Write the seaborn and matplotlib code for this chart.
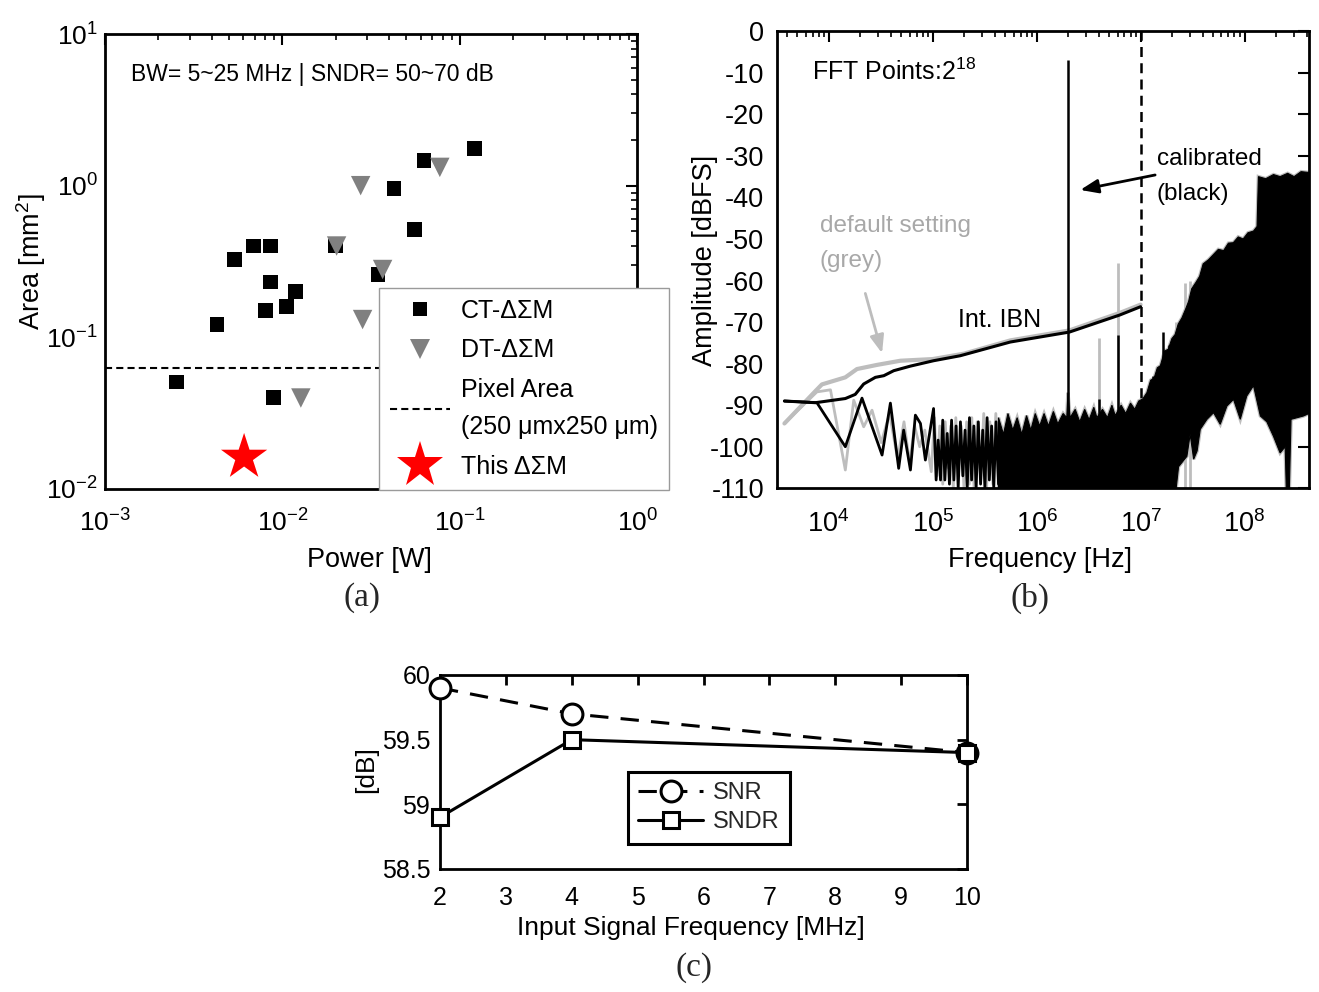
import numpy as np
import pandas as pd
import matplotlib
matplotlib.use("Agg")
import matplotlib.pyplot as plt
import matplotlib.font_manager as fm
from matplotlib.lines import Line2D
from matplotlib.ticker import FuncFormatter, FixedLocator, LogLocator, NullFormatter, FixedFormatter
import seaborn as sns

# ---------------- data: panel (a) ----------------
ct_power = [0.121, 0.0627, 0.0425, 0.0556, 0.00687, 0.00859, 0.00535, 0.0200,
            0.0345, 0.00859, 0.0119, 0.00805, 0.01053, 0.00427, 0.00254, 0.0089]
ct_area = [1.76, 1.46, 0.96, 0.515, 0.40, 0.40, 0.327, 0.40,
           0.26, 0.232, 0.201, 0.151, 0.16, 0.121, 0.0507, 0.0401]
dt_power = [0.0276, 0.0771, 0.0202, 0.0367, 0.0283, 0.0127]
dt_area = [1.00, 1.32, 0.40, 0.28, 0.131, 0.0398]
this_power = [0.00608]
this_area = [0.0162]
pixel_area = 0.0625  # 250 um x 250 um in mm^2

# ---------------- data: panel (b) ----------------
# low-frequency part of the spectra (Hz, dBFS)
blk_low_f = [3750, 7700, 14450, 20900, 32600, 39200, 47100, 52600, 61100, 68200, 76300,
             85100, 102000, 108000, 113000, 119000, 125000, 131000, 138000, 145000, 152000,
             160000, 168000, 176000, 185000, 195000, 205000, 215000, 226000, 237000, 249000,
             262000, 275000, 289000, 303000, 318000, 334000, 351000, 369000, 387000, 407000,
             430000]
blk_low_db = [-89.0, -89.4, -100.0, -88.3, -102.0, -89.5, -105.2, -96.0, -105.6, -92.4, -94.4,
              -103.2, -90.8, -108, -98.4, -108, -93.6, -108, -96.8, -109, -93.6,
              -108, -95, -110, -94, -107, -96, -110, -93, -108, -95,
              -110, -94, -109, -96, -110, -93, -108, -95, -110, -94,
              -109]
gry_low_f = [3750, 7700, 10400, 14450, 17400, 21700, 26100, 32000, 38500, 46000, 53000, 60000,
             67000, 75000, 84000, 97000, 104000, 110000, 117000, 125000, 132000, 140000,
             149000, 158000, 167000, 176000, 188000, 200000, 212000, 225000, 238000, 250000,
             268000, 290000, 310000, 330000, 355000, 380000, 405000, 430000]
gry_low_db = [-94.4, -86.8, -86.3, -105.6, -88.8, -95.2, -91.2, -99, -92, -103, -94, -104,
              -95, -100, -96, -106, -93, -107, -95, -109, -94, -105,
              -95, -110, -93, -108, -95, -110, -94, -109, -93, -110,
              -94, -108, -92, -110, -94, -109, -92, -108]
# dense noise region: upper and lower edges
dense_up_f = [4.3e5, 4.8e5, 5.3e5, 5.9e5, 6.5e5, 7.2e5, 8.0e5, 8.8e5, 9.7e5, 1.07e6, 1.18e6,
              1.3e6, 1.45e6, 1.6e6, 1.8e6, 1.95e6, 2.0e6, 2.1e6, 2.35e6, 2.6e6, 2.9e6, 3.2e6,
              3.55e6, 3.8e6, 4.3e6, 4.8e6, 5.3e6, 5.7e6, 6.5e6, 7.2e6, 8.0e6, 8.8e6, 9.6e6,
              1.05e7, 1.15e7, 1.25e7, 1.35e7, 1.45e7, 1.55e7, 1.7e7, 1.85e7, 2.0e7, 2.15e7,
              2.3e7, 2.5e7, 2.7e7, 2.9e7, 3.1e7, 3.4e7, 3.7e7, 4.0e7, 4.5e7, 5.0e7, 5.6e7,
              6.3e7, 7.0e7, 7.8e7, 8.7e7, 9.7e7, 1.08e8, 1.22e8, 1.32e8, 1.36e8, 1.6e8,
              1.9e8, 2.2e8, 2.6e8, 3.0e8, 3.5e8, 4.17e8]
dense_up_db = [-93, -97, -92, -96, -93, -97, -92.5, -96, -92, -95, -92,
               -95, -91.5, -94.5, -92, -93, -87, -93, -91, -94, -91, -93.5,
               -90.5, -93, -91, -93, -90, -92.5, -90, -92, -89.5, -91, -89,
               -88.5, -87, -84, -83.5, -81, -80.5, -77, -76.5, -74, -73,
               -70.5, -69, -67, -65, -62, -60.5, -59, -56, -55, -53.8, -52.5,
               -52.8, -51, -50.9, -49.5, -50, -48.5, -48.1, -47, -35, -35.5,
               -34.5, -35, -34.2, -35, -33.8, -34]
dense_lo_f = [4.3e5, 2.2e7, 2.32e7, 2.79e7, 3.0e7, 3.24e7, 3.5e7, 3.75e7, 4.35e7, 5.04e7, 5.84e7,
              6.77e7, 7.84e7, 9.1e7, 1.05e8, 1.22e8, 1.42e8, 1.64e8, 1.9e8, 2.2e8, 2.46e8,
              2.52e8, 2.7e8, 2.8e8, 3.69e8, 4.17e8]
dense_lo_db = [-110, -110, -104.8, -102.3, -97, -103, -101, -95.8, -93.4, -91.8, -94.6,
               -90.2, -88.6, -93.4, -87.8, -85.3, -92.6, -94, -97.5, -101.5, -100,
               -110, -110, -93.4, -92.6, -92]
# spurs
blk_spur_f = [4e6, 6e6, 1e7, 1.33e7, 1.66e7, 1.86e7]
blk_spur_db = [-88.6, -73.2, -90, -82.9, -72.4, -75.6]
gry_spur_f = [4e6, 6e6, 2.2e7, 2.65e7, 3.0e7]
gry_spur_db = [-73.8, -55.8, -70, -60.5, -60]
tone_f = [2e6]
tone_db = [-7.0]
# integrated in-band noise
ibn_blk_f = [3750, 7450, 14450, 18000, 21700, 28100, 33900, 42200, 61000, 102000, 184000,
             558000, 2.07e6, 6.3e6, 1e7]
ibn_blk_db = [-89.0, -89.4, -88.4, -87.4, -84.9, -83.3, -82.9, -81.7, -80.6, -79.3, -78.1,
              -74.8, -72.4, -68.3, -66.3]
ibn_gry_f = [3750, 7450, 8600, 14450, 18700, 29200, 49000, 100000, 200000, 560000, 2.07e6,
             6.3e6, 1e7]
ibn_gry_db = [-94.4, -86.6, -85.0, -83.3, -81.3, -80.3, -79.3, -78.9, -77.6, -74.4, -72.0,
              -67.8, -65.8]
bw_edge = 1e7

# ---------------- data: panel (c) ----------------
sig_freq = [2, 4, 10]
snr = [59.9, 59.7, 59.4]
sndr = [58.9, 59.5, 59.4]

# ---------------- style ----------------
sns.set_theme(style="white")


def has_font(name):
    try:
        fm.findfont(fm.FontProperties(family=name), fallback_to_default=False)
        return True
    except Exception:
        return False


REG = "Liberation Sans"
NARROW = "Liberation Sans Narrow" if has_font("Liberation Sans Narrow") else REG
SERIF = "Liberation Serif"
plt.rcParams["font.family"] = [REG, "DejaVu Sans"]
plt.rcParams["axes.unicode_minus"] = False
plt.rcParams["mathtext.fontset"] = "custom"
plt.rcParams["mathtext.rm"] = REG
plt.rcParams["mathtext.it"] = REG + ":italic"
plt.rcParams["mathtext.bf"] = REG + ":bold"

W, H = 1319, 992
fig = plt.figure(figsize=(W / 100, H / 100), dpi=100)
fig.patch.set_facecolor("white")


def px_axes(l, t, r, b):
    return fig.add_axes([l / W, 1 - b / H, (r - l) / W, (b - t) / H])


axA = px_axes(105, 34, 637.3, 489)
axB = px_axes(776.7, 31.2, 1309, 488.3)
axC = px_axes(440, 675, 967, 869)

for ax in (axA, axB, axC):
    ax.set_facecolor("white")
    for s in ax.spines.values():
        s.set_color("black")
        s.set_linewidth(2.0)

pow10 = FuncFormatter(lambda v, _: r"$\mathregular{10^{%d}}$" % int(round(np.log10(v))))
GREY = "#bdbdbd"
DTGREY = "#808080"

# ---------------- panel (a) ----------------
axA.set_xscale("log")
axA.set_yscale("log")
sns.scatterplot(x=ct_power, y=ct_area, marker="s", s=112, color="black", edgecolor="none",
                ax=axA, zorder=3, legend=False)
sns.scatterplot(x=dt_power, y=dt_area, marker="v", s=196, color=DTGREY, edgecolor="none",
                ax=axA, zorder=3, legend=False)
sns.scatterplot(x=this_power, y=this_area, marker="*", s=1225, color="red", edgecolor="none",
                ax=axA, zorder=3, legend=False)
axA.axhline(pixel_area, color="black", lw=1.5, ls=(0, (3.4, 2)), zorder=2)
axA.set_xlim(1e-3, 1)
axA.set_ylim(1e-2, 10)
axA.xaxis.set_major_locator(FixedLocator([1e-3, 1e-2, 1e-1, 1]))
axA.yaxis.set_major_locator(FixedLocator([1e-2, 1e-1, 1, 10]))
axA.xaxis.set_minor_locator(LogLocator(base=10, subs=np.arange(2, 10)))
axA.yaxis.set_minor_locator(LogLocator(base=10, subs=np.arange(2, 10)))
axA.xaxis.set_major_formatter(pow10)
axA.yaxis.set_major_formatter(pow10)
axA.xaxis.set_minor_formatter(NullFormatter())
axA.yaxis.set_minor_formatter(NullFormatter())
axA.tick_params(which="both", direction="in", top=True, right=True, colors="black")
axA.tick_params(which="major", length=8, width=1.5, labelsize=19, labelfontfamily=NARROW)
axA.tick_params(which="minor", length=4, width=1.2)
axA.tick_params(axis="x", which="major", pad=15)
axA.tick_params(axis="y", which="major", pad=5)
axA.text(0.049, 0.91, "BW= 5~25 MHz | SNDR= 50~70 dB", transform=axA.transAxes,
         ha="left", va="center", fontsize=16.5, color="black")
axA.set_xlabel("Power [W]", fontsize=19.5, family=NARROW, color="black")
axA.set_ylabel("Area [mm$^2$]", fontsize=19.5, family=NARROW, color="black")
axA.xaxis.set_label_coords(0.496, -0.156)
axA.yaxis.set_label_coords(-0.139, 0.499)
for lab in (axA.xaxis.label, axA.yaxis.label):
    lab.set_va("center")
    lab.set_ha("center")

hA = [Line2D([], [], marker="s", ls="none", color="black", ms=10.5, mew=0),
      Line2D([], [], marker="v", ls="none", color=DTGREY, ms=14, mew=0),
      Line2D([], [], ls=(0, (3.4, 2)), color="black", lw=1.5),
      Line2D([], [], marker="*", ls="none", color="red", ms=35, mew=0)]
lA = ["CT-ΔΣM", "DT-ΔΣM", "Pixel Area\n(250 μmx250 μm)", "This ΔΣM"]
legA = axA.legend(hA, lA, loc="lower left", bbox_to_anchor=(379 / W, 1 - 490 / H),
                  bbox_transform=fig.transFigure, borderaxespad=0, fontsize=18,
                  handlelength=2.4, handletextpad=0.41, borderpad=0.45, labelspacing=0.62,
                  frameon=True, fancybox=False, framealpha=1, edgecolor="#9a9a9a")
legA.get_frame().set_linewidth(1.0)
for t in legA.get_texts():
    t.set_linespacing(1.7)
    t.set_color("black")

# ---------------- panel (b) ----------------
axB.set_xscale("log")
axB.fill(np.r_[dense_up_f, dense_lo_f[::-1]], np.r_[dense_up_db, dense_lo_db[::-1]],
         facecolor=GREY, edgecolor=GREY, lw=2.5, zorder=1)
axB.vlines(gry_spur_f, -110, gry_spur_db, colors=GREY, lw=2.0, zorder=1)
sns.lineplot(x=gry_low_f, y=gry_low_db, color=GREY, lw=2.0, ax=axB, sort=False,
             estimator=None, zorder=1)
sns.lineplot(x=ibn_gry_f, y=ibn_gry_db, color=GREY, lw=3.0, ax=axB, sort=False,
             estimator=None, zorder=1)
axB.fill(np.r_[dense_up_f, dense_lo_f[::-1]], np.r_[dense_up_db, dense_lo_db[::-1]],
         facecolor="black", edgecolor="black", lw=0.8, zorder=2)
axB.vlines(blk_spur_f, -110, blk_spur_db, colors="black", lw=1.8, zorder=2)
sns.lineplot(x=blk_low_f, y=blk_low_db, color="black", lw=2.0, ax=axB, sort=False,
             estimator=None, zorder=2)
sns.lineplot(x=ibn_blk_f, y=ibn_blk_db, color="black", lw=2.2, ax=axB, sort=False,
             estimator=None, zorder=3)
axB.vlines(tone_f, -110, tone_db, colors="black", lw=1.8, zorder=3)
axB.vlines([bw_edge], -92, 0, colors="black", lw=1.8, linestyles=[(0, (4, 2.5))], zorder=3)
axB.set_xlim(3160, 4.17e8)
axB.set_ylim(-110, 0)
axB.xaxis.set_major_locator(FixedLocator([1e4, 1e5, 1e6, 1e7, 1e8]))
axB.xaxis.set_minor_locator(LogLocator(base=10, subs=np.arange(2, 10)))
axB.xaxis.set_major_formatter(pow10)
axB.xaxis.set_minor_formatter(NullFormatter())
yt = list(range(-110, 1, 10))
axB.yaxis.set_major_locator(FixedLocator(yt))
axB.yaxis.set_major_formatter(FixedFormatter([str(v) for v in yt]))
axB.tick_params(which="both", direction="in", top=True, right=True, colors="black")
axB.tick_params(which="major", length=8, width=1.5, labelsize=19.5, labelfontfamily=NARROW)
axB.tick_params(which="minor", length=4, width=1.2)
axB.tick_params(axis="x", which="major", pad=16)
axB.tick_params(axis="y", which="major", pad=9)
axB.set_xlabel("Frequency [Hz]", fontsize=19.5, family=NARROW, color="black")
axB.set_ylabel("Amplitude [dBFS]", fontsize=19.5, family=NARROW, color="black")
axB.xaxis.set_label_coords(0.495, -0.157)
axB.yaxis.set_label_coords(-0.135, 0.499)
for lab in (axB.xaxis.label, axB.yaxis.label):
    lab.set_va("center")
    lab.set_ha("center")
axB.text(0.066, 0.911, "FFT Points:2$^{18}$", transform=axB.transAxes, ha="left",
         va="center", fontsize=18, family=NARROW, color="black")
axB.text(0.714, 0.682, "calibrated\n(black)", transform=axB.transAxes, ha="left",
         va="center", fontsize=17.5, color="black", linespacing=1.75)
axB.text(0.081, 0.536, "default setting\n(grey)", transform=axB.transAxes, ha="left",
         va="center", fontsize=17.5, color="#a8a8a8", linespacing=1.75)
axB.text(1.77e5, -69.5, "Int. IBN", ha="left", va="center", fontsize=18, family=NARROW,
         color="black")
axB.annotate("", xy=(2.63e6, -38.2), xytext=(1.38e7, -34.6),
             arrowprops=dict(arrowstyle="-|>,head_length=0.9,head_width=0.35", color="black",
                             lw=2.0, shrinkA=0, shrinkB=0), zorder=4)
axB.annotate("", xy=(32600, -77.5), xytext=(22500, -63.1),
             arrowprops=dict(arrowstyle="-|>,head_length=0.9,head_width=0.35", color=GREY,
                             lw=2.0, shrinkA=0, shrinkB=0), zorder=4)

# ---------------- panel (c) ----------------
sns.lineplot(x=sig_freq, y=snr, ax=axC, color="black", lw=2.2, linestyle=(0, (6, 4)),
             marker="o", markersize=15, markerfacecolor="white", markeredgecolor="black",
             markeredgewidth=2.2, clip_on=False, zorder=4, sort=False, estimator=None)
sns.lineplot(x=sig_freq, y=sndr, ax=axC, color="black", lw=2.2, linestyle="-",
             marker="s", markersize=12, markerfacecolor="white", markeredgecolor="black",
             markeredgewidth=2.2, clip_on=False, zorder=4, sort=False, estimator=None)
axC.set_xlim(2, 10)
axC.set_ylim(58.5, 60)
axC.xaxis.set_major_locator(FixedLocator(list(range(2, 11))))
axC.xaxis.set_major_formatter(FixedFormatter([str(v) for v in range(2, 11)]))
cyt = [58.5, 59, 59.5, 60]
axC.yaxis.set_major_locator(FixedLocator(cyt))
axC.yaxis.set_major_formatter(FixedFormatter(["58.5", "59", "59.5", "60"]))
axC.tick_params(which="both", direction="in", top=True, right=True, colors="black")
axC.tick_params(which="major", length=7, width=2.0, labelsize=18)
axC.tick_params(axis="x", pad=12)
axC.tick_params(axis="y", pad=7)
axC.set_xlabel("Input Signal Frequency [MHz]", fontsize=19, color="black")
axC.set_ylabel("[dB]", fontsize=19, color="black")
axC.xaxis.set_label_coords(0.476, -0.304)
axC.yaxis.set_label_coords(-0.140, 0.51)
for lab in (axC.xaxis.label, axC.yaxis.label):
    lab.set_va("center")
    lab.set_ha("center")
hC = [Line2D([], [], color="black", lw=2.2, ls=(0, (6, 4)), marker="o", ms=15, mfc="white",
             mec="black", mew=2.2),
      Line2D([], [], color="black", lw=2.2, ls="-", marker="s", ms=12, mfc="white",
             mec="black", mew=2.2)]
legC = axC.legend(hC, ["SNR", "SNDR"], loc="lower left", bbox_to_anchor=(0.356, 0.129),
                  borderaxespad=0, fontsize=17, handlelength=2.75, handletextpad=0.4,
                  borderpad=0.45, labelspacing=0.3, frameon=True, fancybox=False,
                  framealpha=1, edgecolor="black")
legC.get_frame().set_linewidth(2.2)

# ---------------- panel labels ----------------
fig.text(362 / W, 1 - 598 / H, "(a)", ha="center", va="center", fontsize=24, family=SERIF)
fig.text(1030 / W, 1 - 598 / H, "(b)", ha="center", va="center", fontsize=24, family=SERIF)
fig.text(694 / W, 1 - 968 / H, "(c)", ha="center", va="center", fontsize=24, family=SERIF)

fig.savefig("out.png", dpi=100, facecolor="white")
